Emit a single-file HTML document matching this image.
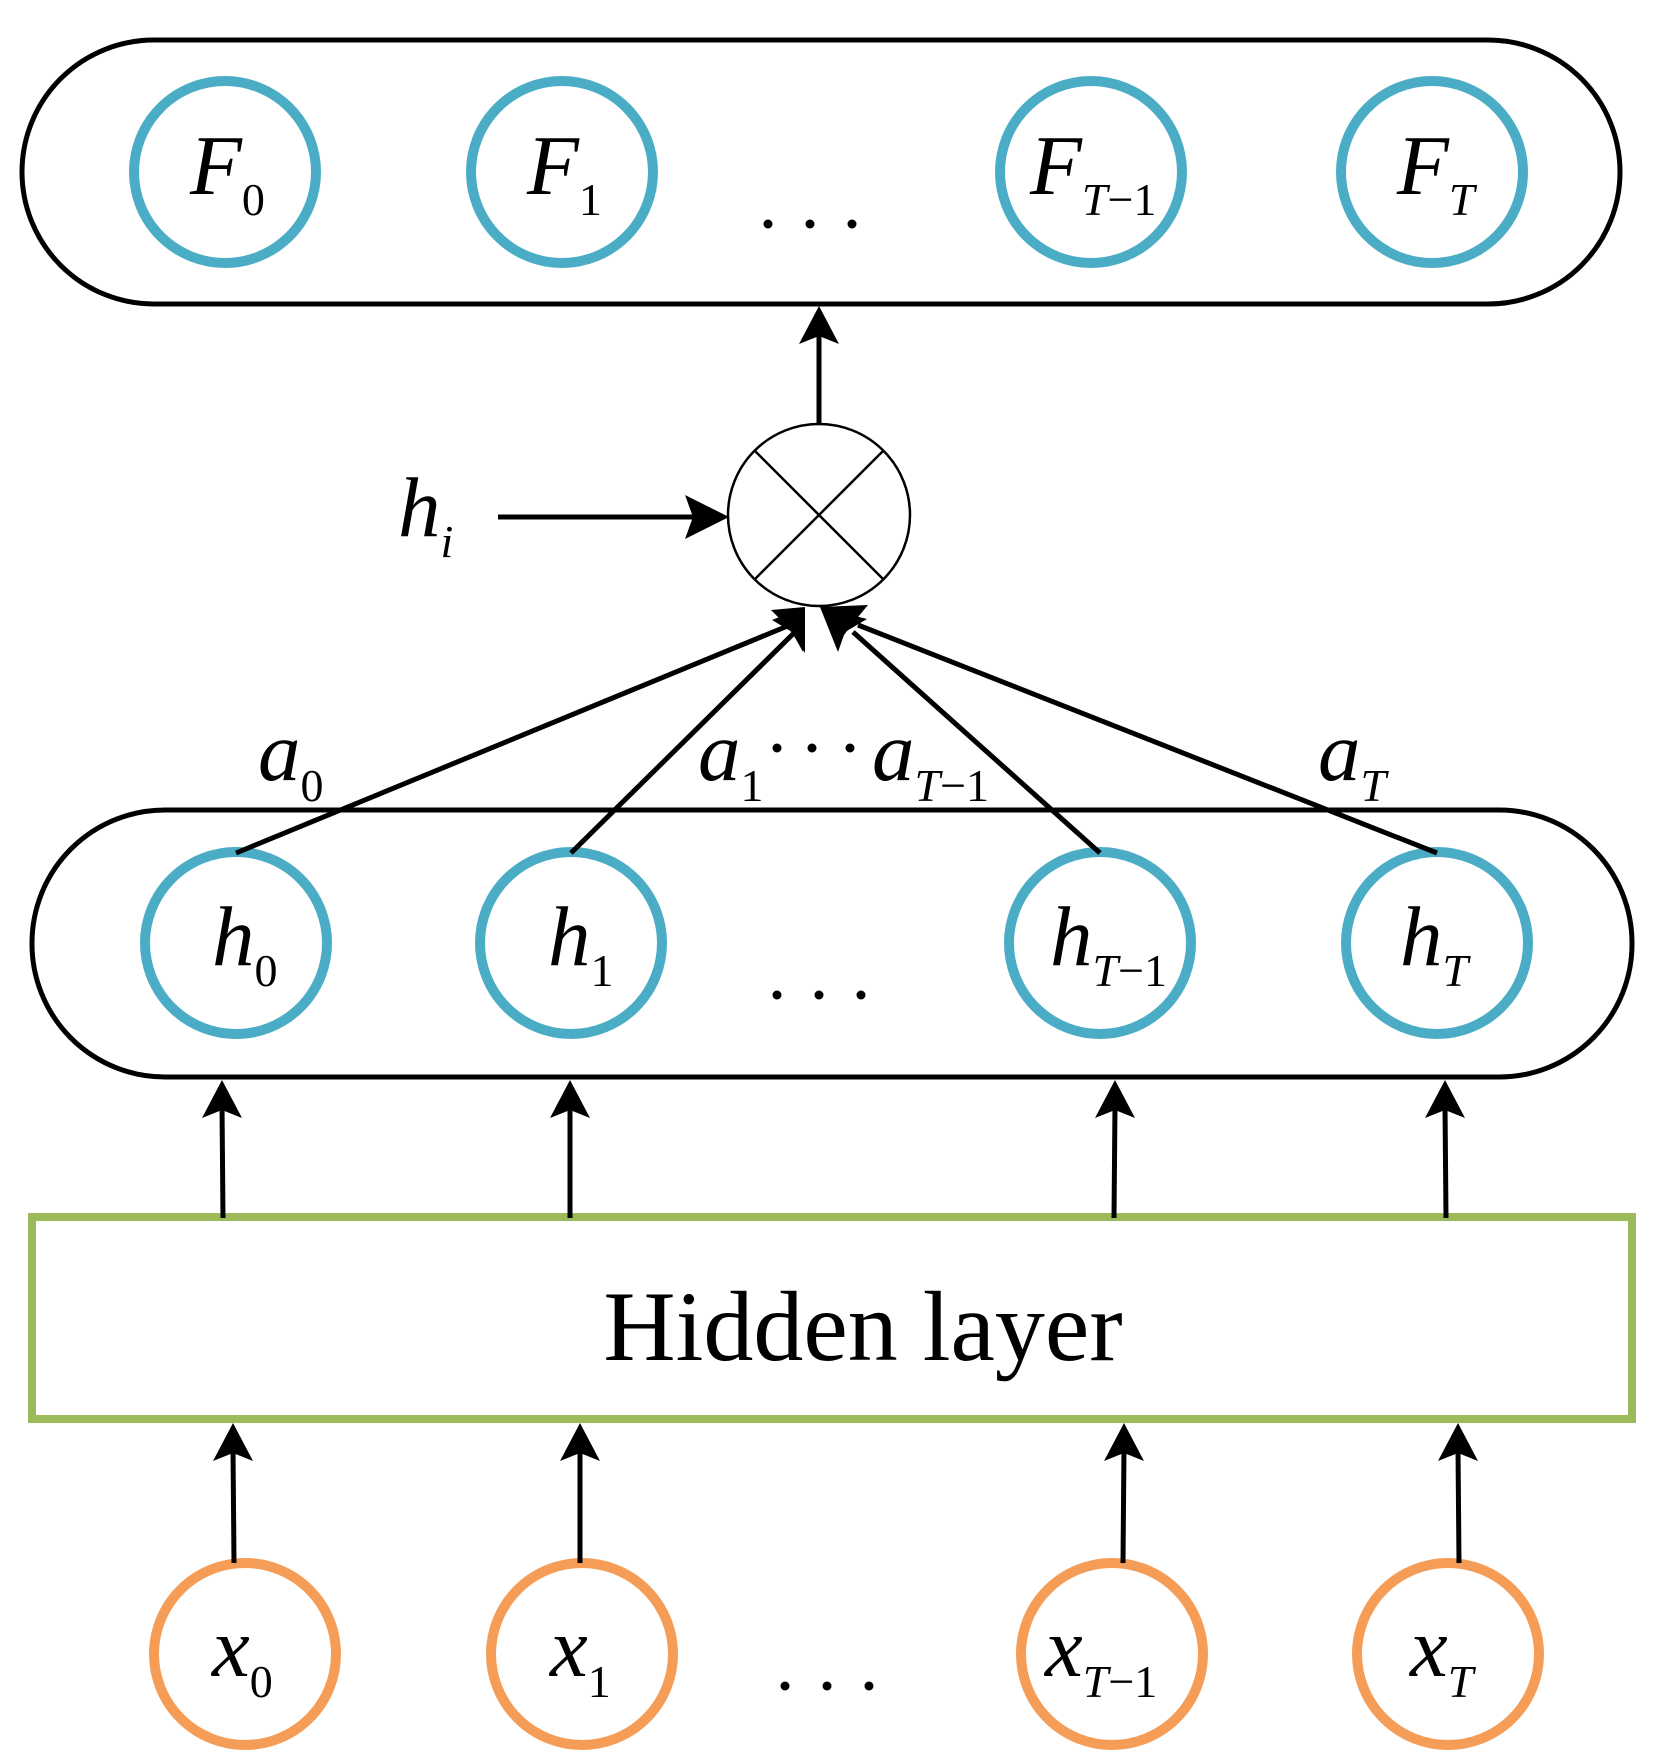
<!DOCTYPE html>
<html><head><meta charset="utf-8"><style>html,body{margin:0;padding:0;background:#fff}svg{display:block}text{font-family:"Liberation Serif",serif}.m{font-size:85px;font-style:italic}.s{font-size:46px;font-style:normal}.si{font-size:46px;font-style:italic}</style></head>
<body>
<svg width="1654" height="1759" viewBox="0 0 1654 1759" xmlns="http://www.w3.org/2000/svg">
<rect x="22" y="40" width="1598" height="264" rx="132" fill="none" stroke="#000" stroke-width="5"/>
<rect x="32" y="810" width="1600" height="267" rx="133" fill="none" stroke="#000" stroke-width="5"/>
<rect x="32" y="1217" width="1600" height="202" fill="none" stroke="#9bbb59" stroke-width="8"/>
<text x="863" y="1360" font-size="100" text-anchor="middle">Hidden layer</text>

<g fill="none" stroke="#4bacc6" stroke-width="10">
<circle cx="225" cy="172" r="91"/><circle cx="562" cy="172" r="91"/><circle cx="1091" cy="172" r="91"/><circle cx="1432" cy="172" r="91"/>
<circle cx="236" cy="943" r="91"/><circle cx="571" cy="943" r="91"/><circle cx="1100" cy="943" r="91"/><circle cx="1437" cy="943" r="91"/>
</g>
<g fill="none" stroke="#f59d56" stroke-width="10">
<circle cx="245" cy="1654" r="91"/><circle cx="582" cy="1654" r="91"/><circle cx="1112" cy="1654" r="91"/><circle cx="1448" cy="1654" r="91"/>
</g>

<circle cx="819" cy="515" r="91" fill="none" stroke="#000" stroke-width="2.5"/>
<line x1="755" y1="451" x2="883" y2="579" stroke="#000" stroke-width="2.5"/>
<line x1="883" y1="451" x2="755" y2="579" stroke="#000" stroke-width="2.5"/>

<g stroke="#000" stroke-width="5" fill="none">
<line x1="819" y1="424" x2="819" y2="330"/>
<line x1="498" y1="517" x2="705" y2="517"/>
<line x1="236" y1="853" x2="790" y2="625"/>
<line x1="571" y1="853" x2="795" y2="632"/>
<line x1="1100" y1="853" x2="853" y2="632"/>
<line x1="1437" y1="853" x2="858" y2="625"/>
<line x1="223" y1="1218" x2="222" y2="1105"/>
<line x1="570" y1="1218" x2="570" y2="1105"/>
<line x1="1114" y1="1218" x2="1115" y2="1105"/>
<line x1="1446" y1="1218" x2="1445" y2="1105"/>
<line x1="234" y1="1563" x2="233" y2="1448"/>
<line x1="580" y1="1563" x2="580" y2="1448"/>
<line x1="1123" y1="1563" x2="1124" y2="1448"/>
<line x1="1459" y1="1563" x2="1458" y2="1448"/>
</g>
<g fill="#000">
<path d="M819 306 L839 344 L819 336 L799 344 Z"/>
<path d="M729 517 L685 495 L693 517 L685 539 Z"/>
<path d="M222 1080 L242 1118 L222 1110 L202 1118 Z"/>
<path d="M570 1080 L590 1118 L570 1110 L550 1118 Z"/>
<path d="M1115 1080 L1135 1118 L1115 1110 L1095 1118 Z"/>
<path d="M1445 1080 L1465 1118 L1445 1110 L1425 1118 Z"/>
<path d="M233 1423 L253 1461 L233 1453 L213 1461 Z"/>
<path d="M580 1423 L600 1461 L580 1453 L560 1461 Z"/>
<path d="M1124 1423 L1144 1461 L1124 1453 L1104 1461 Z"/>
<path d="M1458 1423 L1478 1461 L1458 1453 L1438 1461 Z"/>
<path d="M805 607 L771 610 L788 627 L805 653 Z"/>
<path d="M805 607 L803 652 L792 632 L772 620 Z"/>
<path d="M820 607 L838 652 L845 632 L867 619 Z"/>
<path d="M820 607 L868 605 L853 623 L838 643 Z"/>
</g>

<text class="m" x="190" y="194">F<tspan class="s" dy="21">0</tspan></text>
<text class="m" x="527" y="194">F<tspan class="s" dy="21">1</tspan></text>
<text class="m" x="1030" y="194">F<tspan class="si" dy="21">T</tspan><tspan class="s">−1</tspan></text>
<text class="m" x="1397" y="194">F<tspan class="si" dy="21">T</tspan></text>

<text class="m" x="212" y="965">h<tspan class="s" dy="21">0</tspan></text>
<text class="m" x="548" y="965">h<tspan class="s" dy="21">1</tspan></text>
<text class="m" x="1050" y="965">h<tspan class="si" dy="21">T</tspan><tspan class="s">−1</tspan></text>
<text class="m" x="1400" y="965">h<tspan class="si" dy="21">T</tspan></text>

<text class="m" x="212" y="1676">x<tspan class="s" dy="21">0</tspan></text>
<text class="m" x="550" y="1676">x<tspan class="s" dy="21">1</tspan></text>
<text class="m" x="1045" y="1676">x<tspan class="si" dy="21">T</tspan><tspan class="s">−1</tspan></text>
<text class="m" x="1410" y="1676">x<tspan class="si" dy="21">T</tspan></text>

<text class="m" x="398" y="536">h<tspan class="si" dy="21">i</tspan></text>
<text class="m" x="258" y="780">a<tspan class="s" dy="21">0</tspan></text>
<text class="m" x="698" y="780">a<tspan class="s" dy="21">1</tspan></text>
<text class="m" x="872" y="780">a<tspan class="si" dy="21">T</tspan><tspan class="s">−1</tspan></text>
<text class="m" x="1318" y="780">a<tspan class="si" dy="21">T</tspan></text>

<g fill="#000">
<circle cx="768" cy="224" r="4.5"/><circle cx="810" cy="224" r="4.5"/><circle cx="852" cy="224" r="4.5"/>
<circle cx="777" cy="995" r="4.5"/><circle cx="819" cy="995" r="4.5"/><circle cx="861" cy="995" r="4.5"/>
<circle cx="785" cy="1686" r="4.5"/><circle cx="827" cy="1686" r="4.5"/><circle cx="869" cy="1686" r="4.5"/>
<circle cx="777" cy="748" r="4.5"/><circle cx="812" cy="748" r="4.5"/><circle cx="850" cy="748" r="4.5"/>
</g>
</svg>
</body></html>
